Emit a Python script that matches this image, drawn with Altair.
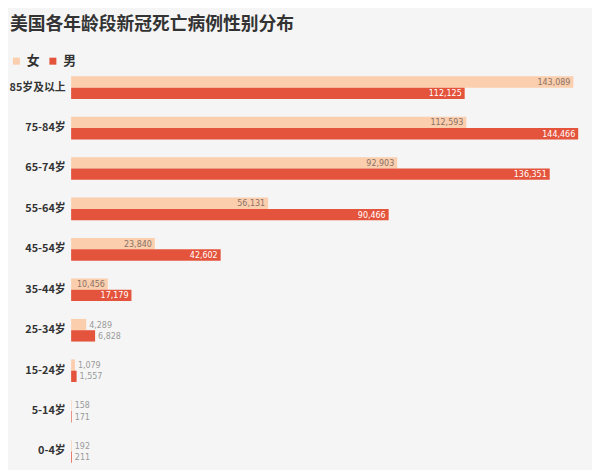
import altair as alt
import pandas as pd

ages = ["85岁及以上", "75-84岁", "65-74岁", "55-64岁", "45-54岁",
        "35-44岁", "25-34岁", "15-24岁", "5-14岁", "0-4岁"]
female = [143089, 112593, 92903, 56131, 23840, 10456, 4289, 1079, 158, 192]
male = [112125, 144466, 136351, 90466, 42602, 17179, 6828, 1557, 171, 211]
sexes = ["女", "男"]
colors = ["#fbceae", "#e4533b"]

rows = []
for a, f, m in zip(ages, female, male):
    rows.append({"age": a, "sex": "女", "value": f})
    rows.append({"age": a, "sex": "男", "value": m})
df = pd.DataFrame(rows)

FONT = "Noto Sans CJK SC"
NUMFONT = "Liberation Sans Narrow, DejaVu Sans Condensed, Roboto Condensed, sans-serif"

x = alt.X("value:Q", axis=None,
          scale=alt.Scale(domain=[0, 144466], nice=False, zero=True))
y = alt.Y("age:N", sort=ages, title=None,
          scale=alt.Scale(paddingInner=0.44, paddingOuter=0.1),
          axis=alt.Axis(domain=False, ticks=False, labelFont=FONT, labelFontSize=11,
                        labelFontWeight="bold", labelColor="#333333", labelPadding=6,
                        grid=False))
yoff = alt.YOffset("sex:N", sort=sexes, scale=alt.Scale(paddingInner=0, paddingOuter=0))

base = alt.Chart(df)

bars = base.mark_bar(cornerRadius=0).encode(
    x=x, y=y, yOffset=yoff,
    color=alt.Color("sex:N", sort=sexes,
                    scale=alt.Scale(domain=sexes, range=colors),
                    legend=alt.Legend(title=None, orient="none", direction="horizontal",
                                      legendX=-62, legendY=-18, symbolType="square",
                                      symbolSize=50, symbolStrokeWidth=0,
                                      labelFont=FONT, labelFontSize=13,
                                      labelFontWeight="bold", labelColor="#333333",
                                      columnPadding=6, labelOffset=4)),
)

lab_enc = dict(x=x, y=y, yOffset=yoff, text=alt.Text("value:Q", format=",d"))

TH = 8000
in_f = base.transform_filter(f"datum.value >= {TH} && datum.sex == '女'").mark_text(
    align="right", dx=-3, font=NUMFONT, fontSize=9, color="#8a7264", baseline="middle"
).encode(**lab_enc)
in_m = base.transform_filter(f"datum.value >= {TH} && datum.sex == '男'").mark_text(
    align="right", dx=-3, font=NUMFONT, fontSize=9, color="#ffffff", baseline="middle"
).encode(**lab_enc)
out = base.transform_filter(f"datum.value < {TH}").mark_text(
    align="left", dx=3, font=NUMFONT, fontSize=9, color="#9a9a9a", baseline="middle"
).encode(**lab_enc)

chart = alt.layer(bars, in_f, in_m, out).properties(
    width=514, height=400,
    title=alt.Title("美国各年龄段新冠死亡病例性别分布", anchor="start", frame="group",
                    dx=-62, offset=21,
                    font=FONT, fontSize=18, fontWeight=600, color="#333333"),
    background="#f5f5f5",
    padding={"left": 64, "top": 62, "right": 14, "bottom": 0},
    autosize=alt.AutoSizeParams(type="none"),
).configure_view(stroke=None)

chart.save("out.html", embed_options={"renderer": "svg", "actions": False})
